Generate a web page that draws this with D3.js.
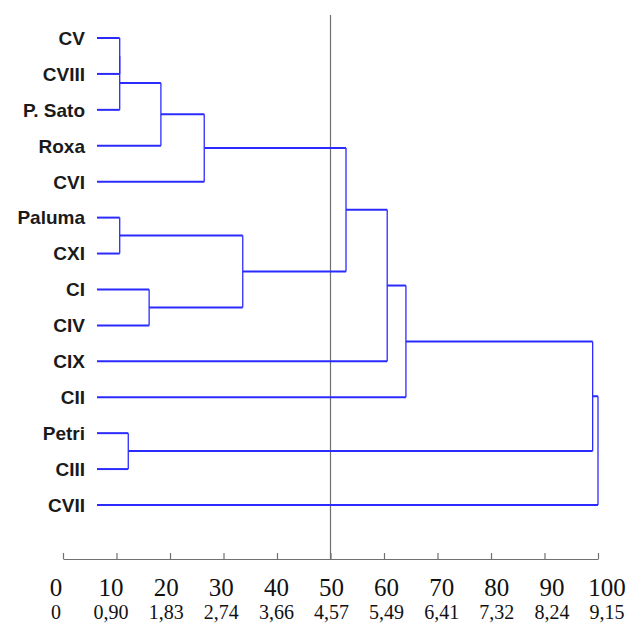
<!DOCTYPE html>
<html>
<head>
<meta charset="utf-8">
<script src="https://cdn.jsdelivr.net/npm/d3@7"></script>
<style>
  body { margin: 0; background: #fff; }
  svg { display: block; }
</style>
</head>
<body>
<svg id="chart"></svg>
<script>
// leaves, top to bottom
let leaves = ['CV', 'CVIII', 'P. Sato', 'Roxa', 'CVI', 'Paluma', 'CXI', 'CI', 'CIV', 'CIX', 'CII', 'Petri', 'CIII', 'CVII']

// merge steps: node ids 0..13 are leaves, each merge makes node 14, 15, ...
let mergeLeft   = [0, 14, 15, 16, 5, 7, 18, 17, 21, 22, 11, 23, 25]
let mergeRight  = [1, 2, 3, 4, 6, 8, 19, 20, 9, 10, 12, 24, 13]
let mergeHeight = [10.6, 10.6, 18.3, 26.4, 10.6, 16.1, 33.6, 52.9, 60.6, 64.1, 12.2, 99.0, 100]

// bottom scale labels
let pctTicks = [0, 10, 20, 30, 40, 50, 60, 70, 80, 90, 100]
let distLabels = ['0', '0,90', '1,83', '2,74', '3,66', '4,57', '5,49', '6,41', '7,32', '8,24', '9,15']
let cutLine = 50

let width = 632
let height = 623
let blue = '#2b2bff'
let leafX = 97

let svg = d3.select('#chart').attr('width', width).attr('height', height)

let x = d3.scaleLinear().domain([0, 100]).range([63, 598])
let xLabel = d3.scaleLinear().domain([0, 100]).range([56, 607])
let y = d3.scalePoint().domain(leaves).range([38, 505])

// node positions
let nodeY = leaves.map(d => y(d))
let nodeX = leaves.map(() => leafX)
mergeHeight.forEach((h, i) => {
    nodeY.push((nodeY[mergeLeft[i]] + nodeY[mergeRight[i]]) / 2)
    nodeX.push(x(h))
})

// cut line at 50
svg.append('line')
   .attr('x1', x(cutLine)).attr('x2', x(cutLine))
   .attr('y1', 15).attr('y2', 559)
   .attr('stroke', '#707070')
   .attr('stroke-width', 1.2)

let tree = svg.append('g')

mergeHeight.forEach((h, i) => {
    let px = x(h)
    let a = mergeLeft[i], b = mergeRight[i]
    // horizontal from each child
    ;[a, b].forEach(c => {
        tree.append('line')
            .attr('x1', nodeX[c]).attr('x2', px)
            .attr('y1', nodeY[c]).attr('y2', nodeY[c])
            .attr('stroke', blue)
            .attr('stroke-width', 2)
    })
    // vertical joining them
    tree.append('line')
        .attr('x1', px).attr('x2', px)
        .attr('y1', nodeY[a]).attr('y2', nodeY[b])
        .attr('stroke', blue)
        .attr('stroke-width', 1.3)
})

// leaf labels
svg.selectAll('.leaf')
   .data(leaves)
   .enter()
   .append('text')
   .attr('class', 'leaf')
   .attr('x', 85)
   .attr('y', d => y(d))
   .attr('dy', '0.36em')
   .attr('text-anchor', 'end')
   .style('font-family', '"Liberation Sans", Arial, sans-serif')
   .style('font-weight', 'bold')
   .style('font-size', '19px')
   .attr('fill', '#1a1a1a')
   .text(d => d)

// axis with ticks pointing up
let axis = d3.axisBottom(x)
    .tickValues(pctTicks)
    .tickSize(-6)
    .tickSizeOuter(0)
    .tickFormat('')

let ax = svg.append('g')
    .attr('transform', 'translate(0,559)')
    .call(axis)
ax.select('.domain').attr('stroke', '#707070').attr('stroke-width', 1.2)
ax.selectAll('.tick line').attr('stroke', '#707070').attr('stroke-width', 1.2)

svg.selectAll('.pct')
   .data(pctTicks)
   .enter()
   .append('text')
   .attr('class', 'pct')
   .attr('x', d => xLabel(d))
   .attr('y', 596)
   .attr('text-anchor', 'middle')
   .style('font-family', '"Liberation Serif", "Times New Roman", serif')
   .style('font-size', '25px')
   .attr('fill', '#111')
   .text(d => d)

svg.selectAll('.dist')
   .data(distLabels)
   .enter()
   .append('text')
   .attr('class', 'dist')
   .attr('x', (d, i) => xLabel(pctTicks[i]))
   .attr('y', 619)
   .attr('text-anchor', 'middle')
   .style('font-family', '"Liberation Serif", "Times New Roman", serif')
   .style('font-size', '20px')
   .attr('fill', '#111')
   .text(d => d)
</script>
</body>
</html>
